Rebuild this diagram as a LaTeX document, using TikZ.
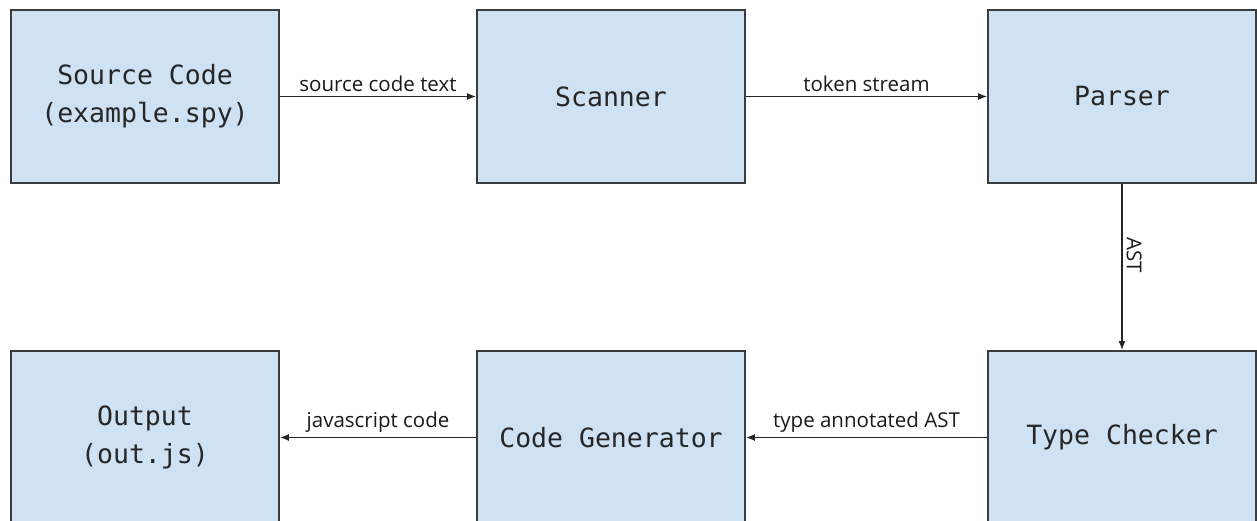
\documentclass[tikz,border=0pt]{standalone}
\usepackage{fontspec}
\setmainfont{Open Sans}
\newfontfamily\boxfont{DejaVu Sans Mono}
\usepackage{xcolor}
\usetikzlibrary{arrows.meta, positioning}
\definecolor{stagebg}{RGB}{207,226,243}
\definecolor{edge}{RGB}{60,60,60}

\begin{document}
\begin{tikzpicture}[x=1pt, y=-1pt,
  stage/.style={draw=edge, line width=1.8pt, fill=stagebg, minimum width=268pt,
    minimum height=173pt, align=center, text=black!85,
    font=\boxfont\fontsize{26.5}{38}\selectfont},
  p/.style={-{Latex[length=9pt, width=7pt]}, line width=1.4pt, draw=black!85},
  lbl/.style={font=\fontsize{20.5}{24}\selectfont, text=black!90, inner sep=4pt}]
\useasboundingbox (0,0) rectangle (1257,521);
\node[stage] (src) at (145,96.5) {Source Code\\(example.spy)};
\node[stage] (scan) at (611,96.5) {Scanner};
\node[stage] (parse) at (1122,96.5) {Parser};
\node[stage] (out) at (145,437.5) {Output\\(out.js)};
\node[stage] (gen) at (611,437.5) {Code Generator};
\node[stage] (check) at (1122,437.5) {Type Checker};
\draw[p] (src) -- node[lbl, above] {source code text} (scan);
\draw[p] (scan) -- node[lbl, above] {token stream} (parse);
\draw[p] (parse) -- node[lbl, pos=0.43, sloped, above] {AST} (check);
\draw[p] (check) -- node[lbl, above] {type annotated AST} (gen);
\draw[p] (gen) -- node[lbl, above] {javascript code} (out);
\end{tikzpicture}
\end{document}
